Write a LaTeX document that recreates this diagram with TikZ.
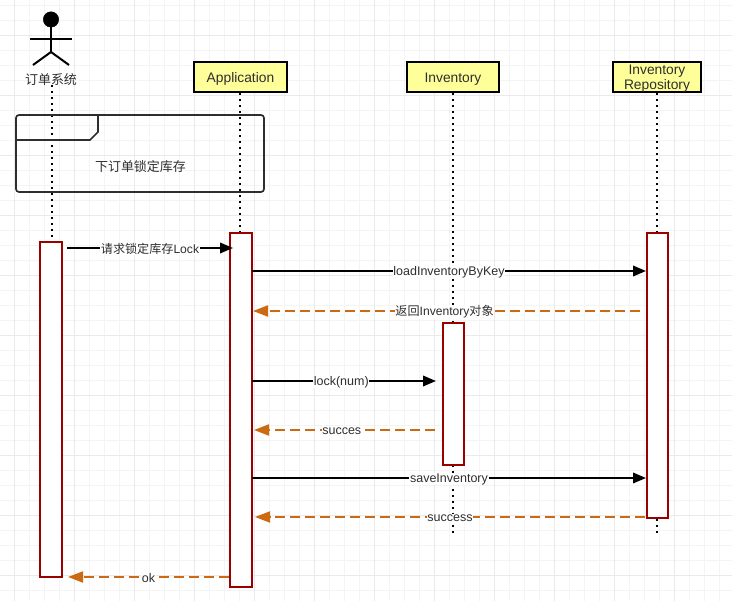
\documentclass[tikz,border=0pt]{standalone}
\usepackage{fontspec}
\setmainfont{Liberation Sans}
\newfontfamily\cjk{Noto Sans CJK SC}
\usetikzlibrary{arrows.meta}
\definecolor{txt}{HTML}{2E2E2E}
\definecolor{actred}{HTML}{990000}
\definecolor{retor}{HTML}{CC6A14}
\definecolor{boxy}{HTML}{FFFF99}
\definecolor{gmin}{HTML}{F4F4F4}
\definecolor{gmaj}{HTML}{EAEAEA}
\newcommand{\lowtext}[1]{\raisebox{-1.6pt}[10pt][3pt]{#1}}
\tikzset{
  every node/.style={font=\fontsize{12.5}{15}\selectfont, text=txt},
  headbox/.style={draw=black, line width=2pt, fill=boxy, minimum height=30pt, inner sep=0pt, align=center, outer sep=0pt, font=\fontsize{13.8}{16}\selectfont},
  actbox/.style={draw=actred, line width=2pt, fill=white, minimum width=21pt, inner sep=0pt, outer sep=0pt},
  lifeline/.style={draw=black, line width=2pt, dash pattern=on 2pt off 4pt},
  callline/.style={draw=black, line width=2pt, -{Triangle[length=13pt,width=10.5pt]}},
  retline/.style={draw=retor, line width=2pt, dash pattern=on 10pt off 5pt, -{Triangle[length=15pt,width=11pt,fill=retor,sep=0pt]}},
  msg/.style={fill=white, inner sep=0.6pt, text=txt, yshift=-1pt},
  limb/.style={draw=black, line width=2pt},
  lab/.style={font=\fontsize{13}{15}\selectfont},
}
\begin{document}
\begin{tikzpicture}[x=1pt,y=-1pt]
\useasboundingbox (0,0) rectangle (732,601);
% grid
\foreach \g in {-1,14,...,732}{\draw[gmin,line width=1pt] (\g,0) -- (\g,601);}
\foreach \g in {6,21,...,601}{\draw[gmin,line width=1pt] (0,\g) -- (732,\g);}
\foreach \g in {14,74,...,732}{\draw[gmaj,line width=1pt] (\g,0) -- (\g,601);}
\foreach \g in {36,96,...,601}{\draw[gmaj,line width=1pt] (0,\g) -- (732,\g);}
% actor
\node[circle,fill=black,draw=black,minimum size=15.5pt,inner sep=0pt] (head) at (51,19.5) {};
\coordinate (neck) at (51,52);
\coordinate (armL) at (30,39);
\coordinate (armR) at (72,39);
\coordinate (legL) at (33,65);
\coordinate (legR) at (69,65);
\draw[limb] (head.south) -- (neck);
\draw[limb] (armL) -- (armR);
\draw[limb] (legL) -- (neck) -- (legR);
\node[lab] (actorlabel) at (51,79.5) {\cjk 订单系统};
% heads
\node[headbox,minimum width=93pt] (app) at (240.5,77) {\lowtext{Application}};
\node[headbox,minimum width=92pt] (inv) at (453,77) {\lowtext{Inventory}};
\node[headbox,minimum width=88pt,text width=88pt] (repo) at (657,77) {\lowtext{Inventory}\\[-0.5pt]\lowtext{Repository}};
% end points
\coordinate (actortop) at (51.5,85);
\coordinate (apptop) at (240,93);
\coordinate (apptail) at (240,233);
\coordinate (actortail) at (51.5,242);
\coordinate (invtop) at (453,93);
\coordinate (invend) at (453,534);
\coordinate (repotop) at (657,93);
\coordinate (repoend) at (657,534);
% lifelines
\draw[lifeline] (actortop) -- (actortail);
\draw[lifeline] (apptop) -- (apptail);
\draw[lifeline] (invtop) -- (invend);
\draw[lifeline] (repotop) -- (repoend);
% frame
\draw[draw=txt,line width=1.7pt,rounded corners=3pt] (16,115) rectangle (264,192);
\coordinate (tabA) at (16,140);
\coordinate (tabB) at (90,140);
\coordinate (tabC) at (98,132);
\coordinate (tabD) at (98,115);
\draw[draw=txt,line width=1.7pt] (tabA) -- (tabB) -- (tabC) -- (tabD);
\node[lab] (frametext) at (140.5,166.5) {\cjk 下订单锁定库存};
% activations
\node[actbox,minimum width=22pt,minimum height=335pt] (actA) at (51,409.5) {};
\node[actbox,minimum width=22pt,minimum height=354pt] (actB) at (240.5,410) {};
\node[actbox,minimum height=142pt] (actC) at (453,394) {};
\node[actbox,minimum height=285pt] (actD) at (657,375.5) {};
% message end points
\coordinate (m1a) at (67,248);  \coordinate (m1b) at (233,248);
\coordinate (m2a) at (252,271); \coordinate (m2b) at (646,271);
\coordinate (m3a) at (640,311); \coordinate (m3b) at (253,311);
\coordinate (m4a) at (252,381); \coordinate (m4b) at (436,381);
\coordinate (m5a) at (435,430); \coordinate (m5b) at (254,430);
\coordinate (m6a) at (252,478); \coordinate (m6b) at (646,478);
\coordinate (m7a) at (645,517); \coordinate (m7b) at (255,517);
\coordinate (m8a) at (229,577); \coordinate (m8b) at (68,577);
% messages
\path[callline] (m1a) -- (m1b) node[msg,pos=0.5] (l1) {\fontsize{12.1}{15}\selectfont\cjk 请求锁定库存\rmfamily Lock};
\path[callline] (m2a) -- (m2b) node[msg,pos=0.5] (l2) {loadInventoryByKey};
\path[retline] (m3a) -- (m3b) node[msg,pos=0.505] (l3) {\fontsize{12.1}{15}\selectfont\cjk 返回\rmfamily Inventory\cjk 对象};
\path[callline] (m4a) -- (m4b) node[msg,pos=0.485] (l4) {lock(num)};
\path[retline] (m5a) -- (m5b) node[msg,pos=0.515] (l5) {succes};
\path[callline] (m6a) -- (m6b) node[msg,pos=0.5] (l6) {saveInventory};
\path[retline] (m7a) -- (m7b) node[msg,pos=0.5] (l7) {success};
\path[retline] (m8a) -- (m8b) node[msg,pos=0.5] (l8) {ok};
\end{tikzpicture}
\end{document}
